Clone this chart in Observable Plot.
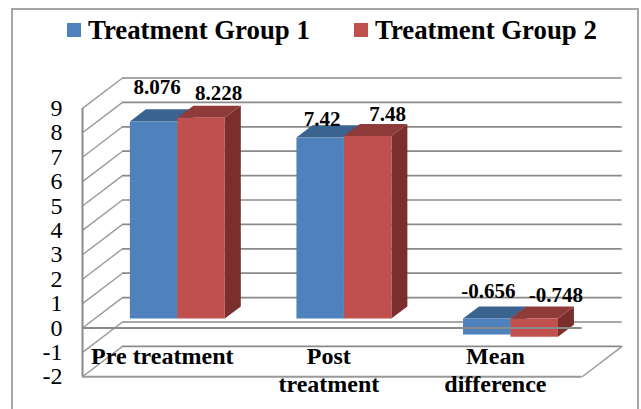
<!DOCTYPE html>
<html>
<head>
<meta charset="utf-8">
<script src="https://cdn.jsdelivr.net/npm/d3@7"></script>
<script src="https://cdn.jsdelivr.net/npm/@observablehq/plot@0.6"></script>
<style>
  html, body { margin: 0; padding: 0; background: #fff; }
  #chart { position: relative; width: 641px; height: 409px; overflow: hidden; font-family: "Liberation Serif", serif; }
  #frame { position: absolute; left: 11px; top: 8px; width: 628px; height: 410px; border: 2px solid #a6a6a6; box-sizing: border-box; }
  #legend { position: relative; height: 52px; font-size: 26.8px; font-weight: bold; color: #000; }
  #legend span.entry { position: absolute; top: 15px; line-height: 30px; white-space: nowrap; }
  #legend i { position: absolute; top: 23px; width: 14px; height: 14px; }
  svg { display: block; }
</style>
</head>
<body>
<div id="chart">
  <div id="frame"></div>
  <div id="legend"></div>
</div>
<script>
// Chart values
const categories = ["Pre treatment", "Post\ntreatment", "Mean\ndifference"];
const seriesNames = ["Treatment Group 1", "Treatment Group 2"];
const group1 = [8.076, 7.42, -0.656];
const group2 = [8.228, 7.48, -0.748];
const yTicks = [-2, -1, 0, 1, 2, 3, 4, 5, 6, 7, 8, 9];

// Series colours: front, top and side faces
const blue = {front: "#4f81bd", top: "#3b6390", side: "#305478"};
const red = {front: "#c0504d", top: "#8f3b39", side: "#7b2f2d"};
const gridColor = "#8a8a8a";

// Oblique projection: a point at depth d (0 front, 1 back wall) shifts right and up, in data units
const depthX = 0.24;
const depthY = 1.246;
const at = (x, v, d) => ({x: x + d * depthX, y: v + d * depthY});

const barWidth = 0.285;
const barFrontDepth = 0.31;
const barBackDepth = 0.71;
const groupCentre = 0.495;
const xMax = categories.length;

// Parallelogram faces are closed, filled lines
const face = (points, fill) => Plot.line(points, {x: "x", y: "y", fill, stroke: "none"});

function barMarks(values, offset, colors) {
  return values.flatMap((v, i) => {
    const x1 = i + groupCentre + offset, x2 = x1 + barWidth;
    const hi = Math.max(v, 0), lo = Math.min(v, 0);
    const a = barFrontDepth, b = barBackDepth;
    return [
      face([at(x1, hi, a), at(x2, hi, a), at(x2, hi, b), at(x1, hi, b)], colors.top),
      face([at(x2, hi, a), at(x2, hi, b), at(x2, lo, b), at(x2, lo, a)], colors.side),
      face([at(x1, hi, a), at(x2, hi, a), at(x2, lo, a), at(x1, lo, a)], colors.front)
    ];
  });
}

// Value labels sit by hand around each bar: [dx, dy] from the centre of the bar's front top edge
const labelShift = [
  [[3.5, -28], [2, -12], [1.5, -36.3]],
  [[17.5, -17.7], [20, -15.5], [21.7, -35.3]]
];

function labelMarks(values, offset, shifts) {
  return values.map((v, i) => Plot.text([at(i + groupCentre + offset + barWidth / 2, v, barFrontDepth)], {
    x: "x", y: "y", text: () => String(v),
    dx: shifts[i][0], dy: shifts[i][1],
    lineAnchor: "bottom", fontSize: 21, fontWeight: "bold",
    fontFamily: "Liberation Serif", fill: "#000"
  }));
}

const wallLevels = yTicks.map(v => ({v, front: at(0, v, 0), back: at(0, v, 1)}));

const plot = Plot.plot({
  width: 641,
  height: 357,
  marginLeft: 82,
  marginRight: 19.3,
  marginTop: 25.5,
  marginBottom: 32.7,
  style: {background: "transparent", fontFamily: "Liberation Serif", overflow: "visible"},
  x: {domain: [0, xMax + depthX], label: null},
  y: {domain: [-2, 9 + depthY], label: null},
  marks: [
    // Back wall gridlines
    Plot.ruleY(yTicks, {y: d => d + depthY, x1: depthX, x2: xMax + depthX, stroke: gridColor, strokeWidth: 1.7}),
    // Side wall diagonals
    Plot.link(wallLevels, {
      x1: d => d.front.x, y1: d => d.front.y, x2: d => d.back.x, y2: d => d.back.y,
      stroke: "#999999", strokeWidth: 1.4
    }),
    // Floor outline, right edge
    Plot.link([0], {
      x1: xMax, y1: -2, x2: xMax + depthX, y2: -2 + depthY,
      stroke: "#999999", strokeWidth: 1.4
    }),
    // Floor front edge and value axis
    Plot.ruleY([-2], {x1: 0, x2: xMax, stroke: "#999999", strokeWidth: 2}),
    Plot.ruleX([0], {y1: -2, y2: 9, stroke: "#8a8a8a", strokeWidth: 2}),
    ...barMarks(group1, -barWidth, blue),
    ...barMarks(group2, 0, red),
    // Category axis line passes in front of the bars
    Plot.ruleY([0], {x1: 0, x2: xMax, stroke: "#8a8a8a", strokeWidth: 2}),
    Plot.axisY({
      anchor: "left", ticks: yTicks, tickSize: 0, tickPadding: 20,
      tickFormat: d => String(d), fontSize: 24, fill: "#000",
      fontFamily: "Liberation Serif", label: null
    }),
    Plot.axisX({
      anchor: "bottom", ticks: [0.5, 1.5, 2.5], tickSize: 0, tickPadding: 0,
      tickFormat: d => categories[Math.floor(d)], fontSize: 24, fontWeight: "bold",
      fill: "#000", lineHeight: 1.17, dx: -3.5, dy: -33,
      fontFamily: "Liberation Serif", label: null
    }),
    ...labelMarks(group1, -barWidth, labelShift[0]),
    ...labelMarks(group2, 0, labelShift[1])
  ]
});
document.getElementById("chart").appendChild(plot);

// Legend above the plot
const legend = d3.select("#legend");
[[67, 88, blue.front], [354, 375, red.front]].forEach(([swatchX, textX, color], i) => {
  legend.append("i").style("left", swatchX + "px").style("background", color);
  legend.append("span").attr("class", "entry").style("left", textX + "px").text(seriesNames[i]);
});
</script>
</body>
</html>
